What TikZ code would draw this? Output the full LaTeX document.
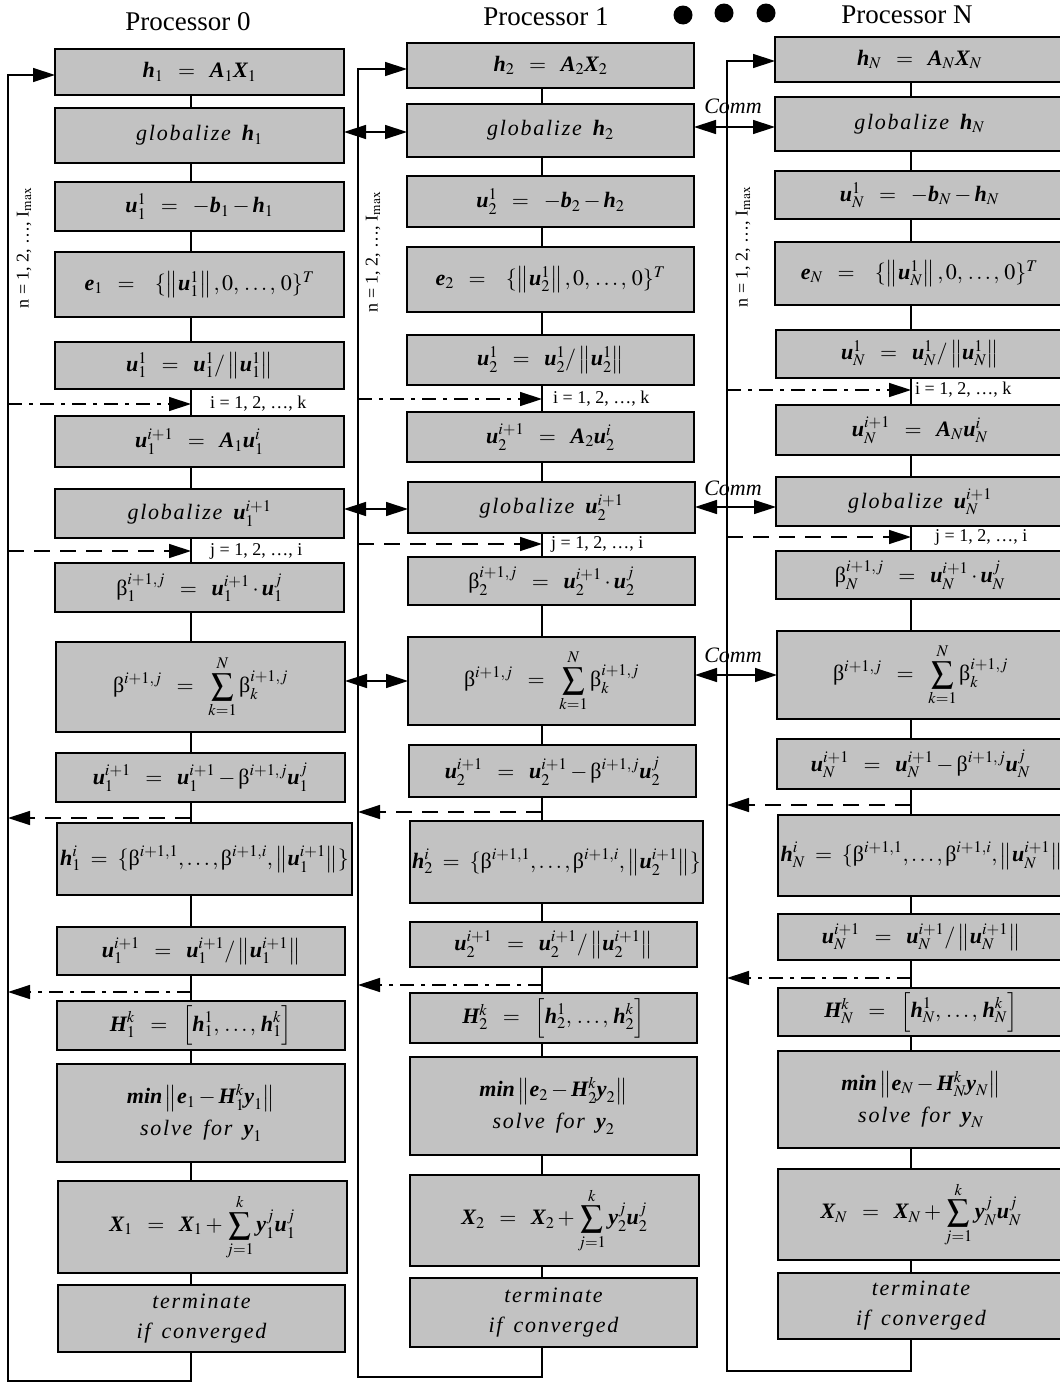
\documentclass[tikz,border=0pt]{standalone}
\usepackage{amsmath}
\usepackage{mathptmx}
\usepackage{fontspec}
\setmainfont{Liberation Serif}
\usetikzlibrary{arrows.meta}

\newcommand\bv[1]{\text{\normalfont\bfseries\itshape #1}}
\newcommand\Bt{\text{\normalfont β}}
\newcommand\gl[1]{{\itshape\addfontfeature{LetterSpace=8}#1}}
\newcommand\eq{\;\;=\;\;}

\newcommand\qa[1]{$\bv{h}_{#1}\eq\bv{A}_{#1}\bv{X}_{#1}$}
\newcommand\qb[1]{\gl{globalize}\ \ $\bv{h}_{#1}$}
\newcommand\qc[1]{$\bv{u}^{1}_{#1}\eq-\bv{b}_{#1} - \bv{h}_{#1}$}
\newcommand\qd[1]{$\bv{e}_{#1}\eq\ \{\left\|\bv{u}^1_{#1}\right\|, 0,\, \ldots,\, 0\}^T$}
\newcommand\qe[1]{$\bv{u}^1_{#1}\eq\bv{u}^1_{#1}/\left\|\bv{u}^1_{#1}\right\|$}
\newcommand\qf[1]{$\bv{u}^{i+1}_{#1}\eq\bv{A}_{#1}\bv{u}^{i}_{#1}$}
\newcommand\qg[1]{\gl{globalize}\ \ $\bv{u}^{i+1}_{#1}$}
\newcommand\qh[1]{$\Bt^{i+1,j}_{#1}\eq\bv{u}^{i+1}_{#1}\cdot\bv{u}^{j}_{#1}$}
\newcommand\qi{$\displaystyle \Bt^{i+1,j}\eq\sum_{k=1}^{N}\Bt^{i+1,j}_{k}$}
\newcommand\qj[1]{$\bv{u}^{i+1}_{#1}\eq\bv{u}^{i+1}_{#1} - \Bt^{i+1,j}\bv{u}^{j}_{#1}$}
\newcommand\qk[1]{$\bv{h}^{i}_{#1} \;=\; \{\Bt^{i+1,1}, \ldots, \Bt^{i+1,i}, \left\|\bv{u}^{i+1}_{#1}\right\|\}$}
\newcommand\ql[1]{$\bv{u}^{i+1}_{#1}\eq\bv{u}^{i+1}_{#1}/\left\|\bv{u}^{i+1}_{#1}\right\|$}
\newcommand\qm[1]{$\bv{H}^{k}_{#1}\eq\Big[\bv{h}^{1}_{#1},\, \ldots,\, \bv{h}^{k}_{#1}\Big]$}
\newcommand\qn[1]{$\bv{min}\left\|\bv{e}_{#1} - \bv{H}^{k}_{#1}\bv{y}_{#1}\right\|$\\[6pt] \gl{solve}\ \ \gl{for}\ \ $\bv{y}_{#1}$}
\newcommand\qo[1]{$\displaystyle \bv{X}_{#1}\eq\bv{X}_{#1} + \sum_{j=1}^{k}\bv{y}^{j}_{#1}\bv{u}^{j}_{#1}$}
\newcommand\qp{\gl{terminate}\\[4pt] \gl{if}\ \ \gl{converged}}

\newcommand\mybox[6]{%
  \pgfmathsetmacro\myW{#4-#2}%
  \pgfmathsetmacro\myH{#5-#3}%
  \pgfmathsetmacro\myX{(#2+#4)/2}%
  \pgfmathsetmacro\myY{(#3+#5)/2}%
  \node[pbox, minimum width=\myW pt, minimum height=\myH pt] (#1) at (\myX,\myY) {#6};}

\tikzset{
  pbox/.style={draw=black, line width=1.8pt, fill=black!24, inner sep=0pt, outer sep=0pt,
    align=center, font=\fontsize{22}{26}\selectfont},
  conn/.style={line width=1.4pt, draw=black},
  arrR/.style={-{Triangle[length=22pt,width=14pt]}},
  arrLR/.style={{Triangle[length=22pt,width=14pt]}-{Triangle[length=22pt,width=14pt]}},
  ddash/.style={dash pattern=on 14pt off 7pt on 4pt off 7pt},
  ldash/.style={dash pattern=on 16pt off 10pt},
  lbl/.style={font=\fontsize{18}{20}\selectfont, inner sep=1pt},
  hdr/.style={font=\fontsize{27}{30}\selectfont, inner sep=0pt},
  commlbl/.style={font=\fontsize{22}{24}\selectfont\itshape, inner sep=0pt},
  dotn/.style={circle, fill=black, minimum size=19pt, inner sep=0pt},
}

\begin{document}
\begin{tikzpicture}[x=1pt,y=-1pt]
\fill[white] (0,0) rectangle (1060,1384);
\useasboundingbox (0,0) rectangle (1060,1384);

% headers
\node[hdr, anchor=base] (p0) at (188,30) {Processor 0};
\node[hdr, anchor=base] (p1) at (546,25) {Processor 1};
\node[hdr, anchor=base] (pN) at (907,23) {Processor N};
\node[dotn] (d1) at (683,15) {};
\node[dotn] (d2) at (724,13) {};
\node[dotn] (d3) at (766,13) {};

% ---------------- column 0 ----------------
\mybox{c0b1}{55}{49}{344}{95}{\qa{1}}
\mybox{c0b2}{55}{108}{344}{163}{\qb{1}}
\mybox{c0b3}{55}{182}{344}{231}{\qc{1}}
\mybox{c0b4}{55}{252}{344}{317}{\qd{1}}
\mybox{c0b5}{55}{342}{344}{389}{\qe{1}}
\mybox{c0b6}{55}{416}{344}{467}{\qf{1}}
\mybox{c0b7}{55}{489}{344}{538}{\qg{1}}
\mybox{c0b8}{55}{563}{344}{612}{\qh{1}}
\mybox{c0b9}{56}{642}{345}{732}{\qi}
\mybox{c0b10}{56}{753}{345}{802}{\qj{1}}
\mybox{c0b11}{57}{823}{352}{895}{\qk{1}}
\mybox{c0b12}{57}{927}{345}{975}{\ql{1}}
\mybox{c0b13}{57}{1001}{345}{1050}{\qm{1}}
\mybox{c0b14}{57}{1064}{345}{1162}{\qn{1}}
\mybox{c0b15}{58}{1181}{347}{1273}{\qo{1}}
\mybox{c0b16}{58}{1285}{345}{1352}{\qp}

% ---------------- column 1 ----------------
\mybox{c1b1}{407}{43}{694}{88}{\qa{2}}
\mybox{c1b2}{407}{104}{694}{157}{\qb{2}}
\mybox{c1b3}{407}{176}{694}{227}{\qc{2}}
\mybox{c1b4}{407}{247}{694}{312}{\qd{2}}
\mybox{c1b5}{407}{335}{694}{385}{\qe{2}}
\mybox{c1b6}{407}{412}{694}{462}{\qf{2}}
\mybox{c1b7}{408}{482}{695}{533}{\qg{2}}
\mybox{c1b8}{408}{557}{695}{605}{\qh{2}}
\mybox{c1b9}{408}{637}{695}{725}{\qi}
\mybox{c1b10}{409}{745}{696}{797}{\qj{2}}
\mybox{c1b11}{410}{821}{703}{903}{\qk{2}}
\mybox{c1b12}{410}{922}{697}{967}{\ql{2}}
\mybox{c1b13}{410}{993}{697}{1043}{\qm{2}}
\mybox{c1b14}{410}{1057}{697}{1155}{\qn{2}}
\mybox{c1b15}{410}{1175}{699}{1266}{\qo{2}}
\mybox{c1b16}{410}{1278}{697}{1347}{\qp}

% ---------------- column N ----------------
\mybox{cNb1}{775}{37}{1064}{82}{\qa{N}}
\mybox{cNb2}{775}{97}{1064}{151}{\qb{N}}
\mybox{cNb3}{775}{171}{1064}{219}{\qc{N}}
\mybox{cNb4}{775}{242}{1064}{305}{\qd{N}}
\mybox{cNb5}{776}{330}{1064}{378}{\qe{N}}
\mybox{cNb6}{776}{405}{1064}{455}{\qf{N}}
\mybox{cNb7}{776}{477}{1064}{526}{\qg{N}}
\mybox{cNb8}{776}{551}{1064}{599}{\qh{N}}
\mybox{cNb9}{777}{631}{1064}{719}{\qi}
\mybox{cNb10}{777}{739}{1064}{789}{\qj{N}}
\mybox{cNb11}{778}{815}{1076}{896}{\qk{N}}
\mybox{cNb12}{778}{914}{1064}{960}{\ql{N}}
\mybox{cNb13}{778}{988}{1064}{1036}{\qm{N}}
\mybox{cNb14}{778}{1051}{1064}{1148}{\qn{N}}
\mybox{cNb15}{778}{1169}{1064}{1260}{\qo{N}}
\mybox{cNb16}{778}{1273}{1064}{1339}{\qp}

% ---------------- reference coordinates ----------------
\coordinate (C0) at (191,0);  \coordinate (L0) at (8,0);
\coordinate (T0) at (0,75);   \coordinate (B0) at (0,1381);
\coordinate (I0) at (0,404);  \coordinate (J0) at (0,551);
\coordinate (K0) at (0,818);  \coordinate (M0) at (0,992);

\coordinate (C1) at (542,0);  \coordinate (L1) at (358,0);
\coordinate (T1) at (0,69);   \coordinate (B1) at (0,1377);
\coordinate (I1) at (0,399);  \coordinate (J1) at (0,544);
\coordinate (K1) at (0,812);  \coordinate (M1) at (0,985);

\coordinate (CN) at (911,0);  \coordinate (LN) at (727,0);
\coordinate (TN) at (0,61);   \coordinate (BN) at (0,1371);
\coordinate (IN) at (0,390);  \coordinate (JN) at (0,537);
\coordinate (KN) at (0,805);  \coordinate (MN) at (0,978);

% column spines
\foreach \c in {0,1,N}{
  \foreach \a/\b in {1/2,2/3,3/4,4/5,5/6,6/7,7/8,8/9,9/10,10/11,11/12,12/13,13/14,14/15,15/16}{
    \draw[conn] (c\c b\a.south -| C\c) -- (c\c b\b.north -| C\c);
  }
  % outer loop
  \draw[conn, arrR] (c\c b16.south -| C\c) -- (C\c |- B\c) -- (L\c |- B\c) -- (L\c |- T\c) -- (c\c b1.west |- T\c);
  % inner loops
  \draw[conn, ddash, arrR] (L\c |- I\c) -- (C\c |- I\c);
  \draw[conn, ldash, arrR] (L\c |- J\c) -- (C\c |- J\c);
  \draw[conn, ldash, arrR] (C\c |- K\c) -- (L\c |- K\c);
  \draw[conn, ddash, arrR] (C\c |- M\c) -- (L\c |- M\c);
}

% loop labels
\node[lbl, anchor=west] (i0) at (209,404) {i = 1, 2, …, k};
\node[lbl, anchor=west] (j0) at (209,551) {j = 1, 2, …, i};
\node[lbl, anchor=west] (i1) at (552,399) {i = 1, 2, …, k};
\node[lbl, anchor=west] (j1) at (550,544) {j = 1, 2, …, i};
\node[lbl, anchor=west] (iN) at (914,390) {i = 1, 2, …, k};
\node[lbl, anchor=west] (jN) at (934,537) {j = 1, 2, …, i};

\node[lbl, rotate=90] (n0) at (24,248) {n = 1, 2, …, I$_{\mathrm{max}}$};
\node[lbl, rotate=90] (n1) at (373,252) {n = 1, 2, …, I$_{\mathrm{max}}$};
\node[lbl, rotate=90] (nN) at (743,247) {n = 1, 2, …, I$_{\mathrm{max}}$};

% communication
\coordinate (G1) at (0,132); \coordinate (G2) at (0,509); \coordinate (G3) at (0,681);
\coordinate (H1) at (0,127); \coordinate (H2) at (0,507); \coordinate (H3) at (0,675);
\draw[conn, arrLR] (c0b2.east |- G1) -- (c1b2.west |- G1);
\draw[conn, arrLR] (c0b7.east |- G2) -- (c1b7.west |- G2);
\draw[conn, arrLR] (c0b9.east |- G3) -- (c1b9.west |- G3);
\draw[conn, arrLR] (c1b2.east |- H1) -- (cNb2.west |- H1);
\draw[conn, arrLR] (c1b7.east |- H2) -- (cNb7.west |- H2);
\draw[conn, arrLR] (c1b9.east |- H3) -- (cNb9.west |- H3);
\node[commlbl] (cm1) at (733,106) {Comm};
\node[commlbl] (cm2) at (733,488) {Comm};
\node[commlbl] (cm3) at (733,655) {Comm};
\end{tikzpicture}
\end{document}
